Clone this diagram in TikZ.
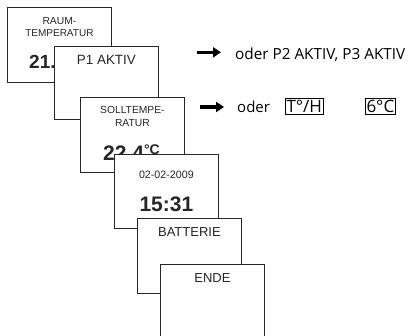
\documentclass[tikz,border=0pt]{standalone}
\usepackage{fontspec}
\setmainfont{Liberation Sans}
\newfontfamily\rfont{Open Sans}
\usetikzlibrary{arrows.meta,calc}
\newcommand{\fs}[1]{\fontsize{#1}{#1}\selectfont}
\tikzset{
  scr/.style={draw=black!85, line width=0.8pt, fill=white, anchor=north west,
    minimum width=104pt, minimum height=75pt, inner sep=0pt},
  lbl/.style={inner sep=0pt, anchor=center, text=black!85},
  bigarrow/.style={line width=3.4pt, -{Triangle[length=8pt,width=10pt]}, black},
  valbox/.style={draw=black, line width=0.6pt, inner xsep=1.2pt, inner ysep=1.5pt},
}
\begin{document}
\begin{tikzpicture}[x=1pt,y=-1pt]
\useasboundingbox (0,0) rectangle (409,336);
\clip (0,0) rectangle (409,336);
% box 1
\node[scr] (b1) at (7,7) {};
\node[lbl, font=\fs{10.3}] (t1a) at ($(b1.north)+(0,13.7)$) {RAUM-};
\node[lbl, font=\fs{10}] (t1b) at ($(b1.north)+(0,26.3)$) {TEMPERATUR};
\node[lbl, font=\bfseries\fs{19}, anchor=base west] (t1c) at (29,69) {21.};
% box 2
\node[scr, minimum height=73pt] (b2) at (54,46) {};
\node[lbl, font=\fs{13.4}] (t2) at ($(b2.north)+(0,14)$) {P1 AKTIV};
% box 3
\node[scr] (b3) at (80,97) {};
\node[lbl, font=\fs{10.3}] (t3a) at ($(b3.north)+(0,13)$) {SOLLTEMPE-};
\node[lbl, font=\fs{10.3}] (t3b) at ($(b3.north)+(0,26.3)$) {RATUR};
\node[lbl, font=\bfseries\fs{21}, anchor=base west] (t3c) at (103,161) {22.4\raisebox{6.5pt}{\fs{14}°C}};
% box 4
\node[scr, minimum height=74pt] (b4) at (114,154) {};
\node[lbl, font=\fs{10.7}] (t4a) at ($(b4.north)+(0,21.3)$) {02-02-2009};
\node[lbl, font=\bfseries\fs{21}] (t4b) at ($(b4.north)+(0,50)$) {15:31};
% box 5
\node[scr] (b5) at (137,218) {};
\node[lbl, font=\fs{13}] (t5) at ($(b5.north)+(0,14)$) {BATTERIE};
% box 6
\node[scr, minimum height=90pt] (b6) at (160,264) {};
\node[lbl, font=\fs{13}] (t6) at ($(b6.north)+(0,14)$) {ENDE};
% right side
\coordinate (a1s) at (197,52.3);
\coordinate (a1e) at (221,52.3);
\draw[bigarrow] (a1s) -- (a1e);
\node[lbl, anchor=base west, font=\rfont\fs{15.3}, text=black] (r1) at (235,60) {oder P2 AKTIV, P3 AKTIV};
\coordinate (a2s) at (200,107);
\coordinate (a2e) at (224,107);
\draw[bigarrow] (a2s) -- (a2e);
\node[lbl, anchor=base west, font=\rfont\fs{15}, text=black] (r2) at (237,113) {oder};
\node[valbox, anchor=base west, font=\rfont\fs{17}] (v1) at (285,112.5) {T°/H};
\node[valbox, anchor=base west, font=\rfont\fs{17}] (v2) at (365,112.5) {6°C};
\end{tikzpicture}
\end{document}
